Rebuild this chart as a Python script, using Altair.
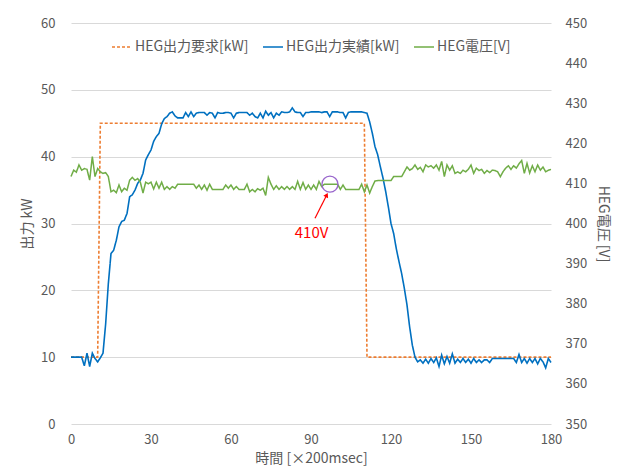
import altair as alt
import pandas as pd

# ---- data ----
x_ticks = [0, 30, 60, 90, 120, 150, 180]
kw_ticks = [0, 10, 20, 30, 40, 50, 60]
v_ticks = [350, 360, 370, 380, 390, 400, 410, 420, 430, 440, 450]

series_names = ["HEG出力要求[kW]", "HEG出力実績[kW]", "HEG電圧[V]"]
series_colors = ["#ED7D31", "#0070C0", "#70AD47"]
series_dash = [[3, 2], [1, 0], [1, 0]]

request_kw = [
    10, 10, 10, 10, 10, 10, 10, 10, 10, 10, 10,
    45, 45, 45, 45, 45, 45, 45, 45, 45, 45,
    45, 45, 45, 45, 45, 45, 45, 45, 45, 45,
    45, 45, 45, 45, 45, 45, 45, 45, 45, 45,
    45, 45, 45, 45, 45, 45, 45, 45, 45, 45,
    45, 45, 45, 45, 45, 45, 45, 45, 45, 45,
    45, 45, 45, 45, 45, 45, 45, 45, 45, 45,
    45, 45, 45, 45, 45, 45, 45, 45, 45, 45,
    45, 45, 45, 45, 45, 45, 45, 45, 45, 45,
    45, 45, 45, 45, 45, 45, 45, 45, 45, 45,
    45, 45, 45, 45, 45, 45, 45, 45, 45, 45,
    10, 10, 10, 10, 10, 10, 10, 10, 10, 10,
    10, 10, 10, 10, 10, 10, 10, 10, 10, 10,
    10, 10, 10, 10, 10, 10, 10, 10, 10, 10,
    10, 10, 10, 10, 10, 10, 10, 10, 10, 10,
    10, 10, 10, 10, 10, 10, 10, 10, 10, 10,
    10, 10, 10, 10, 10, 10, 10, 10, 10, 10,
    10, 10, 10, 10, 10, 10, 10, 10, 10, 10,
]

actual_kw = [
    10, 10, 10, 10, 10, 8.7, 10.6, 8.6, 10.6, 9.8, 9.3, 9.9, 10.6,
    15, 21, 25.5, 26, 27.5, 29.5, 30.3, 30.5, 31.5, 34, 34.3, 35, 36, 36.5,
    37.5, 39.5, 40.3, 41, 42.3, 43, 43.5, 44.9, 45.7, 46.0, 46.5, 46.7, 46.1,
    45.8, 45.8, 45.8, 46.6, 46.0, 46.7, 46.0, 46.5, 46.6, 46.6,
    46.6, 46.2, 46.6, 46.5, 45.8, 46.6, 46.5, 46.5, 46.6, 46.6,
    46.5, 45.8, 46.5, 46.6, 46.6, 46.6, 46.6, 46.2, 46.5, 46.0,
    45.8, 46.5, 45.8, 46.8, 46.2, 46.6, 45.8, 46.5, 46.2, 46.7, 46.6,
    46.6, 46.7, 47.3, 46.7, 46.6, 46.6, 46.0, 46.6, 46.6, 46.7,
    46.7, 46.7, 46.7, 46.6, 46.7, 46.7, 46.0, 46.7, 46.7, 46.7,
    46.6, 46.6, 45.8, 46.6, 46.7, 46.7, 46.7, 46.7, 46.7, 46.6,
    46.5, 45.2, 43.5, 41.5, 40.3, 38.5, 36.8, 34.8, 32.5, 30,
    28.5, 26.2, 24.3, 22.5, 20.3, 17.8, 14.5, 11.8, 10.0,
    9.3, 9.6, 9.1, 9.7, 9.1, 9.8, 9.2, 9.9, 8.6, 10.3,
    9.0, 10.1, 9.1, 10.5, 9.1, 9.7, 9.2, 9.8, 9.2, 9.7,
    9.1, 9.8, 9.2, 9.6, 9.2, 9.6, 9.6, 9.2, 9.8, 9.8,
    9.8, 9.8, 9.8, 9.8, 9.8, 9.8, 9.8, 9.2, 10.4, 9.2,
    9.8, 9.1, 9.8, 9.2, 9.8, 9.0, 9.8, 9.3, 8.4, 9.8,
    9.2,
]

voltage_v = [
    411.7, 413.3, 412.8, 414.6, 413.3, 413.7, 413.5, 410.8, 416.7, 411.7,
    413.7, 412.9, 412.5, 412.7, 411.7,
    407.9, 408.3, 407.7, 409.6, 407.9, 408.8, 408.3, 410.8, 411.5, 410.8,
    411.2, 410.3, 407.6, 410.3, 409.9, 410.3, 408.6, 410.3, 408.8, 410.3,
    408.5, 409.2, 408.5, 409.2, 408.8,
    409.8, 409.8, 409.8, 409.8, 409.8, 409.8, 409.8,
    408.8, 409.6, 408.5, 409.6, 408.3, 409.8,
    408.5, 408.5, 408.5, 408.5, 408.5,
    409.6, 408.8, 409.6, 408.5, 409.2, 408.5, 408.5, 408.5, 409.8, 407.9, 408.5,
    407.9, 408.7, 408.3, 408.8, 407.0, 411.5, 409.8, 408.5, 409.4, 408.5,
    409.2, 408.5, 409.2, 408.5, 409.2, 408.5, 410.5, 408.5, 410.2, 408.5,
    409.6, 408.5, 409.6, 408.5, 410.5, 409.2, 409.8, 409.8, 409.8, 409.8,
    409.8, 409.8, 408.5, 409.6, 408.5, 408.5, 408.5, 408.5, 408.5, 408.5,
    409.8, 407.9, 409.6, 407.6, 409.2,
    410.6, 410.7, 410.7, 410.7, 410.7, 410.7, 410.7, 411.7, 411.7, 411.7,
    411.7, 412.9, 414.1, 413.3, 413.7, 414.6, 413.5, 414.0, 412.9, 414.6,
    414.1, 414.4,
    413.8, 414.6, 413.3, 415.5, 411.7, 414.6, 413.3, 414.4, 412.5, 412.9,
    412.5, 413.3, 412.9, 413.5, 414.6, 412.5, 413.8, 413.2, 413.5, 412.5,
    413.2, 412.7, 413.3, 413.2, 412.9, 411.7, 412.9, 413.8, 414.4, 413.5,
    414.4, 413.8, 414.9, 415.7, 412.5, 415.0, 412.6, 414.4, 412.9, 414.6,
    413.3, 414.1, 412.9, 413.3, 413.5,
]

# annotation (in right-axis units)
circle_t = [97.1]
circle_v = [409.8]
arrow_t = [91.5]
arrow_v = [401.3]
arrow_t2 = [95.9]
arrow_v2 = [407.1]
label_t = [90.2]
label_v = [397.6]
label_text = ["410V"]

FONT = "Noto Sans CJK JP"
GRAY = "#595959"

df_left = pd.DataFrame({
    "t": list(range(len(request_kw))) + list(range(len(actual_kw))),
    "val": request_kw + actual_kw,
    "series": [series_names[0]] * len(request_kw) + [series_names[1]] * len(actual_kw),
})
df_right = pd.DataFrame({
    "t": list(range(len(voltage_v))),
    "v": voltage_v,
    "series": [series_names[2]] * len(voltage_v),
})
df_circle = pd.DataFrame({"t": circle_t, "v": circle_v})
df_arrow = pd.DataFrame({"t": arrow_t, "v": arrow_v, "t2": arrow_t2, "v2": arrow_v2})
df_head = pd.DataFrame({"t": arrow_t2, "v": arrow_v2})
df_label = pd.DataFrame({"t": label_t, "v": label_v, "txt": label_text})

x_enc = alt.X("t:Q", scale=alt.Scale(domain=[0, 180], nice=False, zero=False),
              axis=alt.Axis(values=x_ticks, title="時間 [×200msec]", grid=False, labelFlush=False,
                            domain=False, ticks=False, labelPadding=9, titlePadding=5))

legend = alt.Legend(title=None, orient="none", legendX=40, legendY=13, direction="horizontal",
                    symbolType="stroke", symbolSize=400, symbolStrokeWidth=1.5,
                    labelFontSize=14, labelColor=GRAY, labelFont=FONT, labelOffset=2,
                    columnPadding=11)
color_enc = alt.Color("series:N", scale=alt.Scale(domain=series_names, range=series_colors), legend=legend)
dash_enc = alt.StrokeDash("series:N", scale=alt.Scale(domain=series_names, range=series_dash), legend=legend)

y_left = alt.Y("val:Q", scale=alt.Scale(domain=[0, 60], nice=False),
               axis=alt.Axis(values=kw_ticks, title="出力 kW", grid=True, gridColor="#d9d9d9",
                             domain=False, ticks=False, labelPadding=16, titlePadding=6))
y_right = alt.Y("v:Q", scale=alt.Scale(domain=[350, 450], nice=False, zero=False),
                axis=alt.Axis(orient="right", values=v_ticks, title="HEG電圧 [V]", grid=False,
                              domain=False, ticks=False, labelPadding=14, titlePadding=9))

left = alt.Chart(df_left).mark_line(strokeWidth=1.6).encode(
    x=x_enc, y=y_left, color=color_enc, strokeDash=dash_enc,
    order=alt.Order("t:Q"))

green = alt.Chart(df_right).mark_line(strokeWidth=1.5).encode(
    x=x_enc, y=y_right, color=color_enc, strokeDash=dash_enc)

circle = alt.Chart(df_circle).mark_point(shape="circle", filled=False, size=256,
                                          stroke="#9966CC", strokeWidth=1.3, opacity=1).encode(
    x=x_enc, y=y_right)
arrow = alt.Chart(df_arrow).mark_rule(color="#FF0000", strokeWidth=1.2).encode(
    x=x_enc, y=y_right, x2="t2:Q", y2="v2:Q")
head = alt.Chart(df_head).mark_point(shape="triangle-up", filled=True, size=28, angle=27,
                                     color="#FF0000", opacity=1).encode(x=x_enc, y=y_right)
label = alt.Chart(df_label).mark_text(color="#FF0000", fontSize=15, font=FONT).encode(
    x=x_enc, y=y_right, text="txt:N")

right = alt.layer(green, circle, arrow, head, label)

chart = alt.layer(left, right).resolve_scale(
    y="independent", color="shared", strokeDash="shared"
).properties(
    width=480, height=401,
    padding={"left": 71, "top": 23, "right": 68, "bottom": 50},
    autosize=alt.AutoSizeParams(type="none"),
    background="white",
).configure_view(stroke=None).configure_axis(
    labelFont=FONT, titleFont=FONT, labelColor=GRAY, titleColor=GRAY,
    labelFontSize=13, titleFontSize=14, titleFontWeight="normal",
)

chart.save("out.html", embed_options={"renderer": "svg", "actions": False})
